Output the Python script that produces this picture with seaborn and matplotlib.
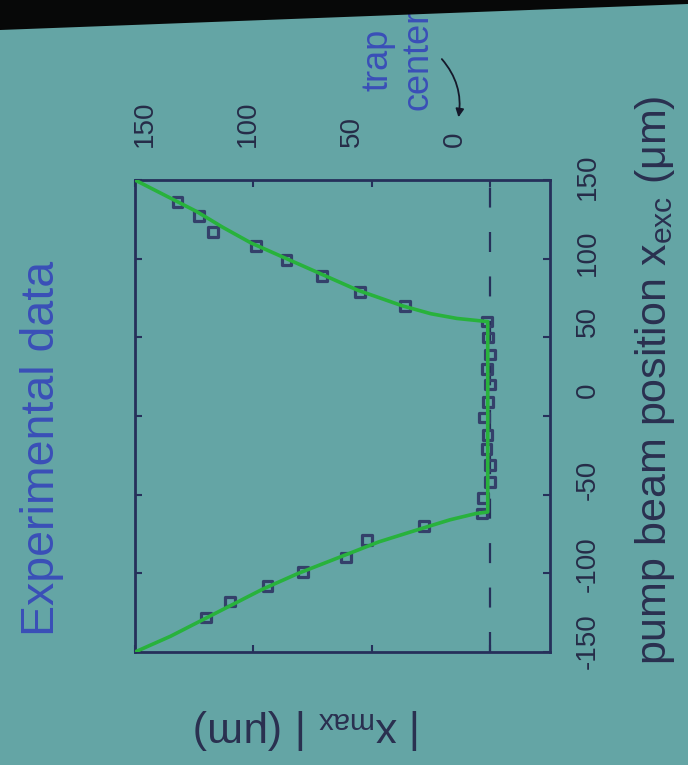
import matplotlib
matplotlib.use("Agg")
import matplotlib.pyplot as plt
import seaborn as sns
import pandas as pd
from matplotlib.patches import Polygon, FancyArrowPatch

# ---------------- data ----------------
# fitted curve: |x_max| (um) vs pump beam position x_exc (um)
curve_pump = [-150, -140, -130, -120, -110, -100, -90, -80, -72, -66, -62, -61,
              60, 62, 65, 70, 80, 90, 100, 110, 120, 130, 140, 150]
curve_xmax = [150, 135, 122, 109, 96, 81, 64, 47, 30, 17, 6, 1,
              1, 14, 25, 37, 56, 71, 86, 101, 113, 124, 137, 150]

# measured points
top_pump = [136, 127, 117, 108, 99, 89, 79, 70]
top_xmax = [132, 123, 117, 99, 86, 71, 55, 36]
flat_pump = [60, 50, 39, 30, 20, 9, -1, -12, -21, -31, -42, -52, -62]
flat_xmax = [1.3, 0.8, 0, 1.3, 0, 0.9, 2.7, 1.1, 1.6, 0, 0, 3.0, 3.5]
bot_pump = [-128, -118, -108, -99, -90, -79, -70]
bot_xmax = [120, 110, 94, 79, 61, 52, 28]

xmax_ticks = [0, 50, 100, 150]
pump_ticks = [-150, -100, -50, 0, 50, 100, 150]

# ---------------- style ----------------
sns.set_theme(style="white")
plt.rcParams['font.family'] = ['Liberation Sans', 'DejaVu Sans']
plt.rcParams['mathtext.default'] = 'regular'
plt.rcParams['axes.unicode_minus'] = False

BG = '#64a5a5'
SPINE = '#26305a'
TICKC = '#262c48'
LABC = '#2a3050'
BLUE = '#3a4fb8'
GREEN = '#28b23c'

fig = plt.figure(figsize=(6.88, 7.65), dpi=100, facecolor=BG)
ax = fig.add_axes([135/688, 1-652/765, 415/688, 472/765])
ax.set_facecolor(BG)

pts = pd.DataFrame({
    'xmax': top_xmax + flat_xmax + bot_xmax,
    'pump': top_pump + flat_pump + bot_pump,
})

ax.axvline(0, color=SPINE, lw=1.6, dashes=(9, 11), zorder=1)
sns.scatterplot(data=pts, x='xmax', y='pump', marker='s', s=48,
                facecolors='none', edgecolors='#34406a', linewidth=2.3,
                ax=ax, zorder=2)
sns.lineplot(x=curve_xmax, y=curve_pump, sort=False, estimator=None,
             color=GREEN, lw=2.6, ax=ax, zorder=3)

ax.set_xlim(150, -25.3)
ax.set_ylim(-150, 150)
ax.set_xticks(xmax_ticks)
ax.set_yticks(pump_ticks)
ax.tick_params(direction='in', length=5, width=1.5, color=SPINE,
               top=True, right=True, bottom=True, left=True,
               labelbottom=False, labelleft=False, labeltop=False, labelright=False)
for sp in ax.spines.values():
    sp.set_color(SPINE)
    sp.set_linewidth(2)

# |x_max| tick labels (placed as in the photo)
secx = ax.secondary_xaxis('top', functions=(lambda s: (s - 14.78) / 0.8733,
                                            lambda v: 14.78 + 0.8733 * v))
secx.set_xticks(xmax_ticks)
secx.tick_params(length=0, pad=24, labelsize=20, labelcolor=TICKC, labelrotation=90)
secx.spines['top'].set_visible(False)

# pump-position tick labels: separate transparent axes spanning where the labels sit
lab = fig.add_axes([135/688, 1-623/765, 415/688, 460/765], facecolor='none')
lab.set_ylim(-150, 150)
lab.set_yticks(pump_ticks)
lab.set_xticks([])
lab.tick_params(left=False, right=False, bottom=False, labelleft=False,
                labelright=True, labelbottom=False, pad=12, labelsize=20,
                labelcolor=TICKC, labelrotation=90)
for sp in lab.spines.values():
    sp.set_visible(False)

ax.set_xlabel("| x$_{max}$ | (μm)", rotation=180, fontsize=31, color=LABC)
ax.xaxis.set_label_coords(0.417, -0.163)
ax.xaxis.label.set_va('center')
ax.xaxis.label.set_ha('center')

ax.set_ylabel("pump beam position x$_{exc}$ (μm)", rotation=90, fontsize=31, color=LABC)
ax.yaxis.set_label_position('right')
ax.yaxis.set_label_coords(1.253, 0.576)
ax.yaxis.label.set_va('center')
ax.yaxis.label.set_ha('center')

fig.text(42/688, 1-448/765, "Experimental data", rotation=90, fontsize=33.5,
         color=BLUE, ha='center', va='center')
fig.text(398/688, 1-60/765, "trap\ncenter", rotation=90, fontsize=26,
         color=BLUE, ha='center', va='center', multialignment='center',
         linespacing=1.15)
fig.add_artist(FancyArrowPatch((440/688, 1-57/765), (458/688, 1-120/765),
                               transform=fig.transFigure,
                               connectionstyle='arc3,rad=-0.25',
                               arrowstyle='-|>', mutation_scale=12,
                               color='#15182a', lw=1.3))

band = Polygon([(0, 1), (1, 1), (1, 1-4/765), (0, 1-30/765)], closed=True,
               transform=fig.transFigure, facecolor='#070808', edgecolor='none',
               zorder=20)
fig.add_artist(band)

fig.savefig("out.png", dpi=100, facecolor=BG)
